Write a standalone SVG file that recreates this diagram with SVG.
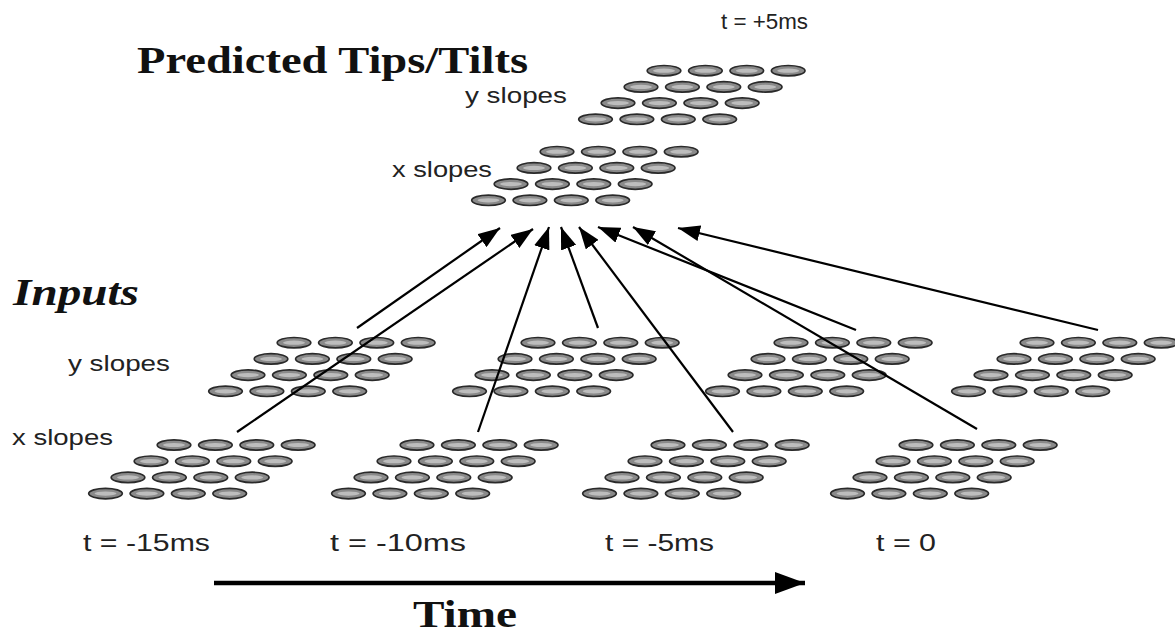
<svg xmlns="http://www.w3.org/2000/svg" xmlns:xlink="http://www.w3.org/1999/xlink" width="1175" height="634" viewBox="0 0 1175 634">
<style>
.sans{font-family:"Liberation Sans",Arial,sans-serif;fill:#222;}
.lbl{font-size:22px;}
.tl{font-size:23px;}
.serif{font-family:"Liberation Serif","Times New Roman",serif;fill:#111;font-weight:bold;}
.conn{stroke:#000;stroke-width:2.2;fill:none;}
</style>
<defs>
<marker id="ah" markerUnits="userSpaceOnUse" markerWidth="24" markerHeight="16" refX="22" refY="8" orient="auto">
<path d="M0,0 L22,8 L0,16 z" fill="#000"/>
</marker>
<marker id="ahBig" markerUnits="userSpaceOnUse" markerWidth="32" markerHeight="22" refX="30" refY="11" orient="auto">
<path d="M0,0 L30,11 L0,22 z" fill="#000"/>
</marker>
<g id="el">
<ellipse cx="0" cy="0" rx="16.8" ry="5.2" fill="#8a8a8a" stroke="#2a2a2a" stroke-width="1.7"/>
<ellipse cx="0" cy="0" rx="11" ry="2.1" fill="#bdbdbd"/>
</g>
<g id="grid">
<use xlink:href="#el" x="0" y="0"/><use xlink:href="#el" x="41.4" y="0"/><use xlink:href="#el" x="82.8" y="0"/><use xlink:href="#el" x="124.2" y="0"/>
<use xlink:href="#el" x="-23" y="16.2"/><use xlink:href="#el" x="18.4" y="16.2"/><use xlink:href="#el" x="59.8" y="16.2"/><use xlink:href="#el" x="101.2" y="16.2"/>
<use xlink:href="#el" x="-46" y="32.4"/><use xlink:href="#el" x="-4.6" y="32.4"/><use xlink:href="#el" x="36.8" y="32.4"/><use xlink:href="#el" x="78.2" y="32.4"/>
<use xlink:href="#el" x="-68.5" y="48.6"/><use xlink:href="#el" x="-27.1" y="48.6"/><use xlink:href="#el" x="14.3" y="48.6"/><use xlink:href="#el" x="55.7" y="48.6"/>
</g>
</defs>
<rect width="1175" height="634" fill="#fff"/>

<g id="title">
<text class="serif" x="137" y="73" font-size="38" textLength="391" lengthAdjust="spacingAndGlyphs">Predicted Tips/Tilts</text>
</g>
<g id="label-t5">
<text class="sans lbl" x="721" y="29" textLength="87" lengthAdjust="spacingAndGlyphs">t = +5ms</text>
</g>
<g id="pred-y">
<text class="sans lbl" x="465" y="103" textLength="102" lengthAdjust="spacingAndGlyphs">y slopes</text>
<use xlink:href="#grid" x="664" y="70.7"/>
</g>
<g id="pred-x">
<text class="sans lbl" x="392" y="177" textLength="100" lengthAdjust="spacingAndGlyphs">x slopes</text>
<use xlink:href="#grid" x="557" y="151.7"/>
</g>

<g id="inputs-label">
<text class="serif" x="13" y="305" font-size="37" font-style="italic" textLength="126" lengthAdjust="spacingAndGlyphs">Inputs</text>
<text class="sans lbl" x="68" y="371" textLength="102" lengthAdjust="spacingAndGlyphs">y slopes</text>
<text class="sans lbl" x="12" y="445" textLength="101" lengthAdjust="spacingAndGlyphs">x slopes</text>
</g>

<g id="in-m15">
<use xlink:href="#grid" x="294" y="342.7"/>
<use xlink:href="#grid" x="174" y="445"/>
<text class="sans tl" x="83" y="551" textLength="127" lengthAdjust="spacingAndGlyphs">t = -15ms</text>
</g>
<g id="in-m10">
<use xlink:href="#grid" x="538" y="342.7"/>
<use xlink:href="#grid" x="417" y="445"/>
<text class="sans tl" x="330" y="551" textLength="136" lengthAdjust="spacingAndGlyphs">t = -10ms</text>
</g>
<g id="in-m5">
<use xlink:href="#grid" x="791" y="342.7"/>
<use xlink:href="#grid" x="668" y="445"/>
<text class="sans tl" x="605" y="551" textLength="109" lengthAdjust="spacingAndGlyphs">t = -5ms</text>
</g>
<g id="in-0">
<use xlink:href="#grid" x="1037" y="342.7"/>
<use xlink:href="#grid" x="916" y="445"/>
<text class="sans tl" x="876" y="551" textLength="60" lengthAdjust="spacingAndGlyphs">t = 0</text>
</g>

<g id="connectors">
<line class="conn" x1="357" y1="328" x2="500" y2="228" marker-end="url(#ah)"/>
<line class="conn" x1="237" y1="432" x2="533" y2="229" marker-end="url(#ah)"/>
<line class="conn" x1="478" y1="432" x2="549" y2="227" marker-end="url(#ah)"/>
<line class="conn" x1="598" y1="328" x2="561" y2="227" marker-end="url(#ah)"/>
<line class="conn" x1="733" y1="432" x2="579" y2="227" marker-end="url(#ah)"/>
<line class="conn" x1="856" y1="330" x2="598" y2="227" marker-end="url(#ah)"/>
<line class="conn" x1="977" y1="429" x2="633" y2="227" marker-end="url(#ah)"/>
<line class="conn" x1="1098" y1="330" x2="678" y2="228" marker-end="url(#ah)"/>
<line x1="214" y1="583" x2="805" y2="583" stroke="#000" stroke-width="4.5" marker-end="url(#ahBig)"/>
</g>

<g id="time-label">
<text class="serif" x="413" y="627" font-size="38" textLength="104" lengthAdjust="spacingAndGlyphs">Time</text>
</g>
</svg>
